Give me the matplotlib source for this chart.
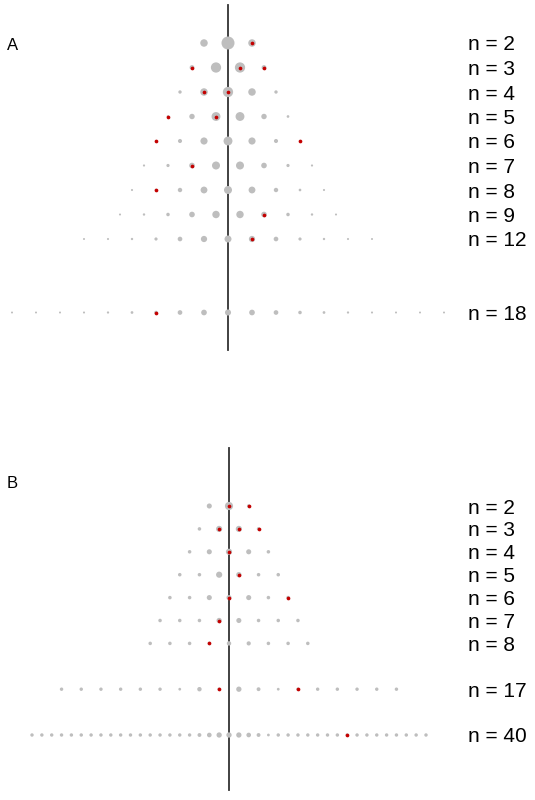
import matplotlib
matplotlib.use("Agg")
import matplotlib.pyplot as plt

plt.rcParams['font.family'] = ['Liberation Sans', 'DejaVu Sans']

# ---------------- data ----------------
# Panel A: binomial probabilities per row, observed counts in red
a_n = [2, 3, 4, 5, 6, 7, 8, 9, 12, 18]
a_prob = [
    [.25, .5, .25],
    [.125, .375, .375, .125],
    [.0625, .25, .375, .25, .0625],
    [.031, .156, .313, .313, .156, .031],
    [.016, .094, .234, .313, .234, .094, .016],
    [.008, .055, .164, .273, .273, .164, .055, .008],
    [.004, .031, .109, .219, .273, .219, .109, .031, .004],
    [.002, .018, .070, .164, .246, .246, .164, .070, .018, .002],
    [.0002, .003, .016, .054, .121, .193, .226, .193, .121, .054, .016, .003, .0002],
    [.000004, .00007, .0006, .003, .012, .033, .071, .121, .167, .185,
     .167, .121, .071, .033, .012, .003, .0006, .00007, .000004],
]
a_obs = [[2], [0, 2, 3], [1, 2], [0, 2], [0, 6], [2], [1], [6], [7], [6]]

# Panel B: estimated relative weights per outcome, observed counts in red
b_n = [2, 3, 4, 5, 6, 7, 8, 17, 40]
b_weight = [
    [.14, .28, .07],
    [.07, .19, .19, .07],
    [.07, .14, .19, .14, .07],
    [.07, .07, .19, .15, .07, .07],
    [.07, .07, .14, .14, .14, .07, .07],
    [.07, .07, .07, .15, .14, .07, .07, .07],
    [.07, .07, .07, .07, .11, .10, .07, .07, .07],
    [.065] * 6 + [.035, .11, .07, .15, .085, .035] + [.065] * 6,
    [.065] * 17 + [.085, .12, .15, .15, .15, .12, .085, .035] + [.065] * 16,
]
b_obs = [[1, 2], [1, 2, 3], [2], [3], [3, 6], [3], [3], [8, 12], [32]]

# ---------------- layout / style ----------------
GRAY = "#BEBEBE"
RED = "#C40000"
LINE = "#333333"
PX = 72.0 / 100.0  # points per pixel at dpi=100
RED_D = 3.7


def size_pts2(w):
    d = 2.0 + 22.0 * w
    return (d * PX) ** 2


fig = plt.figure(figsize=(5.35, 8.0), dpi=100)

# Panel A axes: top half of figure (pixel y 0..400)
axA = fig.add_axes([0, 0.5, 1, 0.5])
a_slot = [0, 1, 2, 3, 4, 5, 6, 7, 8, 11]
a_unit, a_cx, a_y0, a_dy = 24.0, 228.0, 43.0, 24.5
axA.set_xlim(-a_cx / a_unit, (535 - a_cx) / a_unit)
axA.set_ylim((400 - a_y0) / a_dy, (0 - a_y0) / a_dy)
axA.axis("off")
axA.plot([0, 0], [(5 - a_y0) / a_dy, (350 - a_y0) / a_dy], color=LINE, lw=1.3, zorder=1)
for n, probs, obs, slot in zip(a_n, a_prob, a_obs, a_slot):
    xs = [k - n / 2 for k in range(n + 1)]
    axA.scatter(xs, [slot] * len(xs), s=[size_pts2(p) for p in probs],
                color=GRAY, linewidths=0, zorder=2)
    axA.scatter([k - n / 2 for k in obs], [slot] * len(obs), s=(RED_D * PX) ** 2,
                color=RED, linewidths=0, zorder=3)
    axA.text((468 - a_cx) / a_unit, slot, f"n = {n}", fontsize=15,
             ha="left", va="center_baseline", color="black")
axA.text((7 - a_cx) / a_unit, (45 - a_y0) / a_dy, "A", fontsize=12,
         ha="left", va="center", color="black")

# Panel B axes: bottom half (pixel y 400..800)
axB = fig.add_axes([0, 0, 1, 0.5])
b_slot = [0, 1, 2, 3, 4, 5, 6, 8, 10]
b_step = [1, 1, 1, 1, 1, 1, 1, 1, 0.5]
b_unit, b_cx, b_y0, b_dy = 19.7, 229.0, 506.0, 22.9
axB.set_xlim(-b_cx / b_unit, (535 - b_cx) / b_unit)
axB.set_ylim((800 - b_y0) / b_dy, (400 - b_y0) / b_dy)
axB.axis("off")
axB.plot([0, 0], [(448 - b_y0) / b_dy, (790 - b_y0) / b_dy], color=LINE, lw=1.3, zorder=1)
for n, ws, obs, slot, st in zip(b_n, b_weight, b_obs, b_slot, b_step):
    xs = [(k - n / 2) * st for k in range(n + 1)]
    axB.scatter(xs, [slot] * len(xs), s=[size_pts2(w) for w in ws],
                color=GRAY, linewidths=0, zorder=2)
    axB.scatter([(k - n / 2) * st for k in obs], [slot] * len(obs), s=(RED_D * PX) ** 2,
                color=RED, linewidths=0, zorder=3)
    axB.text((468 - b_cx) / b_unit, slot, f"n = {n}", fontsize=15,
             ha="left", va="center_baseline", color="black")
axB.text((7 - b_cx) / b_unit, (484 - b_y0) / b_dy, "B", fontsize=12,
         ha="left", va="center", color="black")

fig.savefig("out.png", dpi=100)
